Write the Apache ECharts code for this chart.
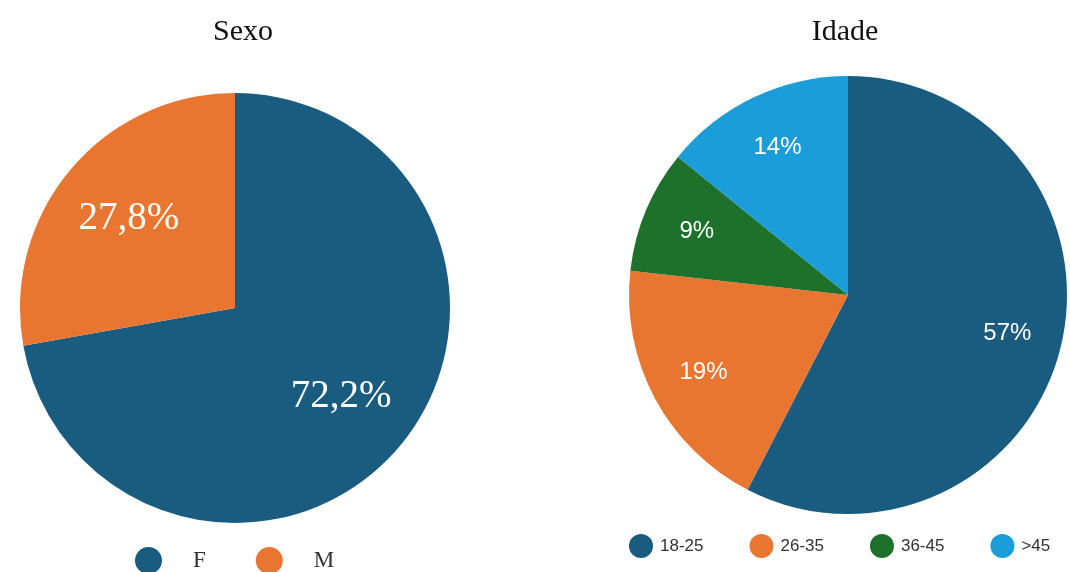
<!DOCTYPE html>
<html>
<head>
<meta charset="utf-8">
<script src="https://cdn.jsdelivr.net/npm/echarts@6/dist/echarts.min.js"></script>
<style>
html,body{margin:0;padding:0;background:#fff;}
#c{width:1070px;height:572px;}
</style>
</head>
<body>
<div id="c"></div>
<script>
// Data
const sexCategories = ['F', 'M'];
const sexValues = [72.2, 27.8];
const sexLabels = ['72,2%', '27,8%'];
const ageCategories = ['18-25', '26-35', '36-45', '>45'];
const ageValues = [57, 19, 9, 14];
const ageLabels = ['57%', '19%', '9%', '14%'];

const sexColors = ['#195c80', '#e87631'];
const ageColors = ['#195c80', '#e87631', '#1d712a', '#1a9dd9'];

const chart = echarts.init(document.getElementById('c'), null, {renderer: 'canvas'});

function mkData(cats, vals, colors) {
  return cats.map((n, i) => ({name: n, value: vals[i], itemStyle: {color: colors[i]}}));
}

const R1 = 215, R2 = 219;

const option = {
  animation: false,
  backgroundColor: '#ffffff',
  title: [
    {text: 'Sexo', left: 238, top: 12, textAlign: 'center',
     textStyle: {fontFamily: 'Liberation Serif', fontSize: 30, fontWeight: 'normal', color: '#111'}},
    {text: 'Idade', left: 840, top: 12, textAlign: 'center',
     textStyle: {fontFamily: 'Liberation Serif', fontSize: 30, fontWeight: 'normal', color: '#111'}}
  ],
  legend: [
    {data: sexCategories, left: 130, top: 542, icon: 'circle', itemWidth: 27, itemHeight: 27, itemGap: 50,
     textStyle: {fontFamily: 'Liberation Serif', fontSize: 23, color: '#333', padding: [0, 0, 0, 26]}},
    {data: ageCategories, left: 624, top: 529, icon: 'circle', itemWidth: 24, itemHeight: 24, itemGap: 46,
     textStyle: {fontFamily: 'Liberation Sans', fontSize: 17, color: '#333', padding: [0, 0, 0, 2]}}
  ],
  series: [
    {type: 'pie', center: [235, 308], radius: [0, R1], startAngle: 90, clockwise: true,
     data: mkData(sexCategories, sexValues, sexColors), label: {show: false}, labelLine: {show: false},
     itemStyle: {borderWidth: 0}, emphasis: {disabled: true}},
    {type: 'pie', center: [235, 308], radius: [R1 * 0.26, R1], startAngle: 90, clockwise: true, silent: true,
     legendHoverLink: false,
     data: sexCategories.map((n, i) => ({name: n, value: sexValues[i], itemStyle: {color: 'rgba(0,0,0,0)'}})),
     label: {show: true, position: 'inside', formatter: p => sexLabels[p.dataIndex],
             fontFamily: 'Liberation Serif', fontSize: 39, color: '#fff'},
     labelLine: {show: false}, itemStyle: {borderWidth: 0}, emphasis: {disabled: true}},
    {type: 'pie', center: [848, 295], radius: [0, R2], startAngle: 90, clockwise: true,
     data: mkData(ageCategories, ageValues, ageColors), label: {show: false}, labelLine: {show: false},
     itemStyle: {borderWidth: 0}, emphasis: {disabled: true}},
    {type: 'pie', center: [848, 295], radius: [R2 * 0.47, R2], startAngle: 90, clockwise: true, silent: true,
     legendHoverLink: false,
     data: ageCategories.map((n, i) => ({name: n, value: ageValues[i], itemStyle: {color: 'rgba(0,0,0,0)'}})),
     label: {show: true, position: 'inside', formatter: p => ageLabels[p.dataIndex],
             fontFamily: 'Liberation Sans', fontSize: 24, color: '#fff'},
     labelLine: {show: false}, itemStyle: {borderWidth: 0}, emphasis: {disabled: true}}
  ]
};
chart.setOption(option);
</script>
</body>
</html>
